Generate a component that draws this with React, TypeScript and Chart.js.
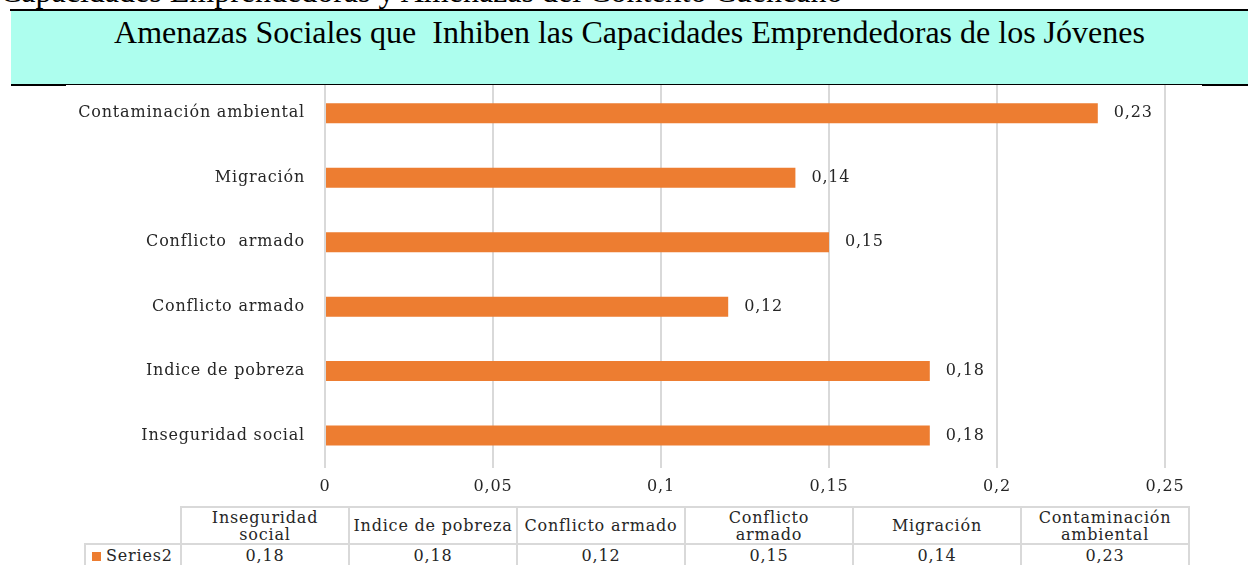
import React, { useEffect, useRef } from "react";
import { Chart, registerables } from "chart.js";

Chart.register(...registerables);

const captionText = "Capacidades Emprendedoras y Amenazas del Contexto Cuencano";
const titleText = "Amenazas Sociales que  Inhiben las Capacidades Emprendedoras de los Jóvenes";
const seriesName = "Series2";
const categories = [
  "Inseguridad social",
  "Indice de pobreza",
  "Conflicto armado",
  "Conflicto  armado",
  "Migración",
  "Contaminación ambiental",
];
const tableHeaders = [
  "Inseguridad\nsocial",
  "Indice de pobreza",
  "Conflicto armado",
  "Conflicto\narmado",
  "Migración",
  "Contaminación\nambiental",
];
const values = [0.18, 0.18, 0.12, 0.15, 0.14, 0.23];
const xMin = 0;
const xMax = 0.25;
const xStep = 0.05;

const BAR_COLOR = "#ED7D31";
const TEXT_COLOR = "#262626";
const GRID_COLOR = "#d9d9d9";
const SERIF = "'DejaVu Serif', serif";
const FONT_SIZE = 16;
const LETTER_SPACING = "0.8px";

const fmt = (v: number) => String(Math.round(v * 100) / 100).replace(".", ",");

const spacing = {
  id: "spacing",
  beforeInit(chart: any) {
    chart.ctx.letterSpacing = LETTER_SPACING;
  },
  beforeUpdate(chart: any) {
    chart.ctx.letterSpacing = LETTER_SPACING;
  },
  beforeDraw(chart: any) {
    chart.ctx.letterSpacing = LETTER_SPACING;
  },
};

const dataLabels = {
  id: "dataLabels",
  afterDatasetsDraw(chart: any) {
    const ctx = chart.ctx;
    const meta = chart.getDatasetMeta(0);
    ctx.save();
    ctx.letterSpacing = LETTER_SPACING;
    ctx.font = `${FONT_SIZE}px ${SERIF}`;
    ctx.fillStyle = TEXT_COLOR;
    ctx.textAlign = "left";
    ctx.textBaseline = "middle";
    meta.data.forEach((bar: any, i: number) => {
      ctx.fillText(fmt(values[i]), bar.x + 16, bar.y);
    });
    ctx.restore();
  },
};

function BarChart() {
  const ref = useRef<HTMLCanvasElement | null>(null);
  useEffect(() => {
    if (!ref.current) return;
    const chart = new Chart(ref.current, {
      type: "bar",
      data: {
        labels: categories,
        datasets: [
          {
            label: seriesName,
            data: values,
            backgroundColor: BAR_COLOR,
            borderWidth: 0,
            barPercentage: 0.31,
            categoryPercentage: 1,
          },
        ],
      },
      options: {
        indexAxis: "y",
        animation: false,
        responsive: false,
        devicePixelRatio: 1,
        layout: { autoPadding: false, padding: { top: 11, right: 83, left: 0, bottom: 0 } },
        plugins: {
          legend: { display: false },
          tooltip: { enabled: false },
          title: { display: false },
        },
        scales: {
          x: {
            type: "linear",
            min: xMin,
            max: xMax,
            position: "bottom",
            ticks: {
              stepSize: xStep,
              callback: (v: any) => fmt(Number(v)),
              font: { family: SERIF, size: FONT_SIZE },
              color: TEXT_COLOR,
              padding: 9,
              maxRotation: 0,
            },
            grid: { color: GRID_COLOR, lineWidth: 2, drawTicks: false },
            border: { display: false },
          },
          y: {
            type: "category",
            reverse: true,
            ticks: {
              font: { family: SERIF, size: FONT_SIZE },
              color: TEXT_COLOR,
              padding: 0,
            },
            grid: { display: false, drawTicks: true, tickLength: 20 },
            border: { display: false },
            afterFit: (scale: any) => {
              scale.width = 325;
            },
          },
        },
      },
      plugins: [spacing, dataLabels],
    } as any);
    return () => chart.destroy();
  }, []);
  return (
    <canvas
      ref={ref}
      width={1248}
      height={435}
      style={{ position: "absolute", left: 0, top: 70, width: 1248, height: 435 }}
    />
  );
}

export default function App() {
  const colW = 168;
  const firstW = 96;
  const cellBorder = `2px solid ${GRID_COLOR}`;
  return (
    <div
      style={{
        position: "absolute",
        left: 0,
        top: 0,
        width: 1248,
        height: 565,
        overflow: "hidden",
        background: "#ffffff",
      }}
    >
      <BarChart />
      <div
        style={{
          position: "absolute",
          left: 0,
          top: -25,
          whiteSpace: "nowrap",
          font: "32px 'Liberation Serif', serif",
          lineHeight: "32px",
          color: "#000",
        }}
      >
        {captionText}
      </div>
      <div style={{ position: "absolute", left: 10, top: 9, width: 1238, height: 2, background: "#000" }} />
      <div
        style={{
          position: "absolute",
          left: 11,
          top: 11,
          width: 1237,
          height: 73,
          background: "#adfeee",
        }}
      />
      <div
        style={{
          position: "absolute",
          left: 11,
          top: 16,
          width: 1237,
          textAlign: "center",
          whiteSpace: "pre",
          font: "32px 'Liberation Serif', serif",
          lineHeight: "32px",
          color: "#000",
        }}
      >
        {titleText}
      </div>
      <div style={{ position: "absolute", left: 11, top: 84, width: 1237, height: 1, background: "#000" }} />
      <div style={{ position: "absolute", left: 11, top: 84, width: 55, height: 2, background: "#000" }} />
      <div style={{ position: "absolute", left: 1202, top: 84, width: 46, height: 2, background: "#000" }} />
      <table
        style={{
          position: "absolute",
          left: 84,
          top: 506,
          borderCollapse: "collapse",
          tableLayout: "fixed",
          width: firstW + colW * tableHeaders.length,
          font: `${FONT_SIZE}px ${SERIF}`,
          letterSpacing: LETTER_SPACING,
          color: TEXT_COLOR,
        }}
      >
        <colgroup>
          <col style={{ width: firstW }} />
          {tableHeaders.map((_, i) => (
            <col key={i} style={{ width: colW }} />
          ))}
        </colgroup>
        <tbody>
          <tr style={{ height: 37 }}>
            <td style={{ border: "none", padding: 0 }} />
            {tableHeaders.map((h, i) => (
              <td
                key={i}
                style={{
                  border: cellBorder,
                  padding: 0,
                  textAlign: "center",
                  verticalAlign: "middle",
                  whiteSpace: "pre-line",
                  lineHeight: "17px",
                }}
              >
                {h}
              </td>
            ))}
          </tr>
          <tr style={{ height: 24 }}>
            <td
              style={{
                border: cellBorder,
                padding: "0 0 0 6px",
                whiteSpace: "nowrap",
                lineHeight: "20px",
              }}
            >
              <span
                style={{
                  display: "inline-block",
                  width: 9,
                  height: 9,
                  background: BAR_COLOR,
                  marginRight: 5,
                  verticalAlign: "middle",
                }}
              />
              {seriesName}
            </td>
            {values.map((v, i) => (
              <td
                key={i}
                style={{
                  border: cellBorder,
                  padding: 0,
                  textAlign: "center",
                  lineHeight: "20px",
                }}
              >
                {fmt(v)}
              </td>
            ))}
          </tr>
        </tbody>
      </table>
    </div>
  );
}
